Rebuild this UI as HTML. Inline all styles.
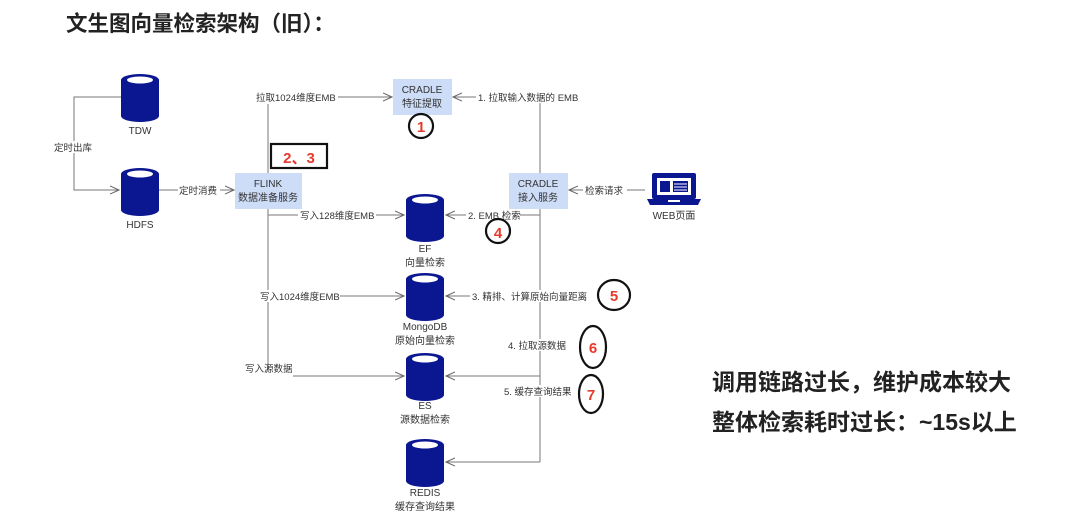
<!DOCTYPE html>
<html><head><meta charset="utf-8"><style>
body{margin:0;width:1080px;height:518px;background:#fff;overflow:hidden}
svg text{font-family:"Liberation Sans","Noto Sans CJK SC",sans-serif}
</style></head><body>
<svg width="1080" height="518" viewBox="0 0 1080 518" xmlns="http://www.w3.org/2000/svg">
<defs>
<marker id="a" markerWidth="10" markerHeight="10" refX="9" refY="5" orient="auto" markerUnits="userSpaceOnUse">
<path d="M0,1 L9,5 L0,9" fill="none" stroke="#666" stroke-width="1"/></marker>
<g id="cyl">
<path d="M-19,-18 L-19,18 A19,6 0 0 0 19,18 L19,-18 Z" fill="#0b1791"/>
<ellipse cx="0" cy="-18" rx="19" ry="6" fill="#0b1791"/>
<ellipse cx="0" cy="-18" rx="13" ry="3.5" fill="#fff"/>
</g>
</defs>
<text x="66" y="31" font-size="21.5" font-weight="bold" fill="#222">文生图向量检索架构（旧）：</text>

<g stroke="#777" stroke-width="1" fill="none">
<path d="M121,97 H74 V190 H119" marker-end="url(#a)"/>
<path d="M159,190 H234" marker-end="url(#a)"/>
<path d="M268,104 V370"/>
<path d="M338,97 H392" marker-end="url(#a)"/>
<path d="M268,215 H404" marker-end="url(#a)"/>
<path d="M268,296 H404" marker-end="url(#a)"/>
<path d="M293,376 H404" marker-end="url(#a)"/>
<path d="M540,97 V173 M540,208 V462"/>
<path d="M540,97 H453" marker-end="url(#a)"/>
<path d="M645,190 H569" marker-end="url(#a)"/>
<path d="M540,215 H446" marker-end="url(#a)"/>
<path d="M540,296 H446" marker-end="url(#a)"/>
<path d="M540,376 H446" marker-end="url(#a)"/>
<path d="M540,462 H446" marker-end="url(#a)"/>
</g>

<use href="#cyl" x="140" y="98"/>
<use href="#cyl" x="140" y="192"/>
<use href="#cyl" x="425" y="218"/>
<use href="#cyl" x="425" y="297"/>
<use href="#cyl" x="425" y="377"/>
<use href="#cyl" x="425" y="463"/>

<g font-size="10" fill="#333" text-anchor="middle">
<text x="140" y="134">TDW</text>
<text x="140" y="228">HDFS</text>
<text x="425" y="252">EF</text><text x="425" y="266">向量检索</text>
<text x="425" y="330">MongoDB</text><text x="425" y="344">原始向量检索</text>
<text x="425" y="409">ES</text><text x="425" y="423">源数据检索</text>
<text x="425" y="496">REDIS</text><text x="425" y="510">缓存查询结果</text>
<text x="674" y="219">WEB页面</text>
</g>

<rect x="393" y="79" width="59" height="36" fill="#cddcf7"/>
<rect x="235" y="173" width="67" height="36" fill="#cddcf7"/>
<rect x="509" y="173" width="59" height="36" fill="#cddcf7"/>
<g font-size="10" fill="#333" text-anchor="middle">
<text x="422" y="93">CRADLE</text><text x="422" y="107">特征提取</text>
<text x="268" y="187">FLINK</text><text x="268" y="201">数据准备服务</text>
<text x="538" y="187">CRADLE</text><text x="538" y="201">接入服务</text>
</g>

<g font-size="9.5" fill="#333">
<rect x="53" y="141" width="42" height="12" fill="#fff"/><text x="54" y="151">定时出库</text>
<rect x="178" y="184" width="42" height="12" fill="#fff"/><text x="179" y="194">定时消费</text>
<rect x="255" y="91" width="83" height="12" fill="#fff"/><text x="256" y="101">拉取1024维度EMB</text>
<rect x="298" y="209" width="78" height="12" fill="#fff"/><text x="300" y="219">写入128维度EMB</text>
<rect x="258" y="290" width="82" height="12" fill="#fff"/><text x="260" y="300">写入1024维度EMB</text>
<text x="245" y="372">写入源数据</text>
<rect x="476" y="91" width="104" height="12" fill="#fff"/><text x="478" y="101">1. 拉取输入数据的 EMB</text>
<rect x="583" y="184" width="44" height="12" fill="#fff"/><text x="585" y="194">检索请求</text>
<rect x="466" y="209" width="54" height="12" fill="#fff"/><text x="468" y="219">2. EMB 检索</text>
<rect x="470" y="290" width="122" height="12" fill="#fff"/><text x="472" y="300">3. 精排、计算原始向量距离</text>
<rect x="506" y="339" width="62" height="12" fill="#fff"/><text x="508" y="349">4. 拉取源数据</text>
<rect x="502" y="385" width="72" height="12" fill="#fff"/><text x="504" y="395">5. 缓存查询结果</text>
</g>

<!-- web icon -->
<rect x="652" y="173" width="44" height="26" rx="2" fill="#0b1791"/>
<rect x="657" y="178" width="34" height="17" fill="#fff"/>
<rect x="660" y="181" width="10" height="11" fill="#0b1791"/>
<rect x="673" y="181" width="15" height="11" fill="#0b1791"/>
<path d="M674,184h13M674,187h13M674,190h13" stroke="#fff" stroke-width="1"/>
<path d="M647,199 H701 L698,205 H650 Z" fill="#0b1791"/>
<rect x="668" y="200" width="12" height="2" fill="#fff"/>

<!-- annotations -->
<g fill="none" stroke="#111" stroke-width="2.2">
<circle cx="421" cy="126" r="12"/>
<rect x="271" y="144" width="56" height="24"/>
<circle cx="498" cy="231" r="12"/>
<ellipse cx="614" cy="295" rx="16" ry="15"/>
<ellipse cx="593" cy="347" rx="13" ry="21"/>
<ellipse cx="591" cy="394" rx="12" ry="19"/>
</g>
<g fill="#e8392d" font-weight="bold" font-size="15" text-anchor="middle">
<text x="421" y="132">1</text>
<text x="299" y="163">2、3</text>
<text x="498" y="238">4</text>
<text x="614" y="301">5</text>
<text x="593" y="353">6</text>
<text x="591" y="400">7</text>
</g>

<g font-size="23" font-weight="bold" fill="#222">
<text x="712" y="390">调用链路过长，维护成本较大</text>
<text x="712" y="430">整体检索耗时过长：~15s以上</text>
</g>
</svg>
</body></html>
